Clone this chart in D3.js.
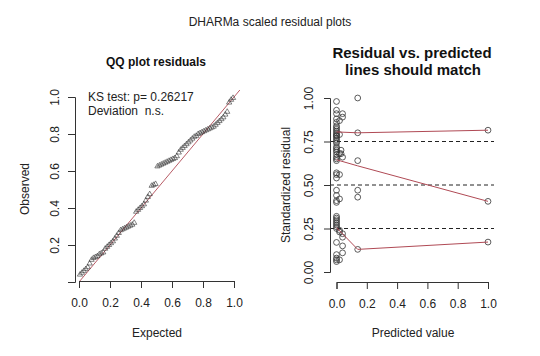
<!DOCTYPE html>
<html><head><meta charset="utf-8">
<script src="https://cdn.jsdelivr.net/npm/d3@7/dist/d3.min.js"></script>
<style>body{margin:0;background:#fff}svg{display:block;font-family:"Liberation Sans",Arial,sans-serif}</style>
</head><body><svg id="c" width="540" height="356"></svg>
<script>
// ---- data ----
const qqObserved = [0.04,0.05,0.06,0.07,0.08,
  0.10,0.12,0.13,0.135,0.14,0.15,0.155,0.16,
  0.18,0.19,0.20,0.21,0.22,0.235,0.25,0.265,
  0.28,0.285,0.29,0.295,0.30,0.305,0.31,0.32,
  0.38,0.39,0.40,0.41,0.42,0.44,0.46,0.475,
  0.52,0.525,0.53,
  0.625,0.63,0.635,0.64,0.645,0.65,0.655,0.66,0.665,0.67,
  0.68,0.70,0.715,0.725,
  0.735,0.745,0.755,0.765,0.775,0.785,0.79,0.80,0.805,0.81,0.815,0.82,
  0.825,0.83,0.835,0.84,0.85,0.86,0.87,0.88,0.89,0.905,0.92,
  0.97,0.985,0.995];
const xTicks = [0,0.2,0.4,0.6,0.8,1.0];
const qqYTicks = [0.2,0.4,0.6,0.8,1.0];
const resYTicks = [0,0.25,0.5,0.75,1.0];
const dashedLevels = [0.25,0.5,0.75];
const predicted = [
  0,0,0,0,0,0,0,0,0,0,0,0,0,0,0,0,0,0,0,0,0,0,0,0,0,0,0,0,0,0,0,0,0,0,0,0,0,0,0,0,0,0,0,0,0,
  0.02,0.02,0.02,0.02,0.02,0.02,0.02,0.02,
  0.04,0.04,0.04,0.04,0.04,0.04,0.04,0.03,0.03,
  0.14,0.14,0.14,0.14,0.14,0.14,
  1.0,1.0,1.0];
const residual = [
  0.98,0.93,0.91,0.88,0.86,0.84,0.83,0.82,0.81,0.80,0.79,0.785,0.78,0.77,0.76,0.75,0.74,0.72,0.71,0.70,0.69,0.675,0.66,0.65,0.64,0.57,0.56,0.54,0.47,0.44,0.41,0.40,0.32,0.31,0.30,0.29,0.28,0.27,0.26,0.25,0.17,0.10,0.08,0.07,0.06,
  0.87,0.79,0.68,0.56,0.42,0.24,0.23,0.07,
  0.91,0.89,0.66,0.22,0.20,0.15,0.11,0.70,0.68,
  1.0,0.80,0.64,0.47,0.43,0.13,
  0.815,0.406,0.172];
const quantPred = [0,0.14,1.0];
const q25 = [0.255,0.13,0.172];
const q50 = [0.645,0.61,0.406];
const q75 = [0.805,0.80,0.815];

// ---- drawing ----
const svg = d3.select("#c");
const axisCol = "#333", redCol = "#b04a55";
const n = qqObserved.length;
const qqExpected = qqObserved.map((d,i)=>(i+0.5)/n);

svg.append("text").attr("x",270).attr("y",26).attr("text-anchor","middle")
  .attr("font-size",12).attr("fill","#222").text("DHARMa scaled residual plots");

// ---- left: QQ plot ----
const xL = d3.scaleLinear([0,1],[79,234]);
const yL = d3.scaleLinear([0,1],[282,97]);
const gL = svg.append("g");
gL.append("defs").append("clipPath").attr("id","clipL").append("rect")
  .attr("x",75).attr("y",90).attr("width",166).attr("height",191);
gL.append("line").attr("clip-path","url(#clipL)")
  .attr("x1",xL(-0.05)).attr("y1",yL(-0.05)).attr("x2",xL(1.1)).attr("y2",yL(1.1))
  .attr("stroke",redCol).attr("stroke-width",0.9);
const tri = d3.symbol().type(d3.symbolTriangle).size(12);
gL.selectAll("path.pt").data(qqObserved).join("path").attr("class","pt")
  .attr("d",tri).attr("transform",(d,i)=>`translate(${xL(qqExpected[i])},${yL(d)})`)
  .attr("fill","none").attr("stroke","#333").attr("stroke-width",0.6);

gL.append("g").attr("transform","translate(0,281)")
  .call(d3.axisBottom(xL).tickValues(xTicks).tickFormat(d3.format(".1f")).tickSizeOuter(0).tickSize(7).tickPadding(10));
const ayL = gL.append("g").attr("transform","translate(75,0)")
  .call(d3.axisLeft(yL).tickValues(qqYTicks).tickFormat(d3.format(".1f")).tickSizeOuter(0).tickSize(7));

gL.append("text").attr("x",156).attr("y",66).attr("text-anchor","middle")
  .attr("font-size",12).attr("font-weight","bold").attr("fill","#111").text("QQ plot residuals");
gL.append("text").attr("x",88).attr("y",101).attr("font-size",12).attr("fill","#222").text("KS test: p= 0.26217");
gL.append("text").attr("x",88).attr("y",115).attr("font-size",12).attr("fill","#222").attr("xml:space","preserve").text("Deviation  n.s.");
gL.append("text").attr("x",157).attr("y",337).attr("text-anchor","middle").attr("font-size",12).attr("fill","#222").text("Expected");
gL.append("text").attr("transform","translate(29,189) rotate(-90)").attr("text-anchor","middle").attr("font-size",12).attr("fill","#222").text("Observed");

// ---- right: residual vs predicted ----
const xR = d3.scaleLinear([0,1],[336.5,488]);
const yR = d3.scaleLinear([0,1],[272,98]);
const gR = svg.append("g");
gR.selectAll("line.dash").data(dashedLevels).join("line").attr("class","dash")
  .attr("x1",330).attr("x2",494).attr("y1",d=>yR(d)).attr("y2",d=>yR(d))
  .attr("stroke","#222").attr("stroke-width",1).attr("stroke-dasharray","4,3");
gR.selectAll("circle").data(residual).join("circle")
  .attr("cx",(d,i)=>xR(predicted[i])).attr("cy",d=>yR(d)).attr("r",2.9)
  .attr("fill","none").attr("stroke","#333").attr("stroke-width",0.8);
const ln = d3.line().x((d,i)=>xR(quantPred[i])).y(d=>yR(d));
[q25,q50,q75].forEach(q=>{
  gR.append("path").attr("d",ln(q)).attr("fill","none").attr("stroke",redCol).attr("stroke-width",1);
});
gR.append("g").attr("transform","translate(0,282)")
  .call(d3.axisBottom(xR).tickValues(xTicks).tickFormat(d3.format(".1f")).tickSizeOuter(0).tickSize(7).tickPadding(10));
const ayR = gR.append("g").attr("transform","translate(330,0)")
  .call(d3.axisLeft(yR).tickValues(resYTicks).tickFormat(d3.format(".2f")).tickSizeOuter(0).tickSize(6));

gR.append("text").attr("x",412).attr("y",58).attr("text-anchor","middle")
  .attr("font-size",15).attr("font-weight","bold").attr("fill","#111").text("Residual vs. predicted");
gR.append("text").attr("x",413).attr("y",75).attr("text-anchor","middle")
  .attr("font-size",15).attr("font-weight","bold").attr("fill","#111").text("lines should match");
gR.append("text").attr("x",413).attr("y",337).attr("text-anchor","middle").attr("font-size",12).attr("fill","#222").text("Predicted value");
gR.append("text").attr("transform","translate(290,185) rotate(-90)").attr("text-anchor","middle").attr("font-size",12).attr("fill","#222").text("Standardized residual");

// style axes like base R
svg.selectAll(".domain").attr("stroke",axisCol);
svg.selectAll(".tick line").attr("stroke",axisCol);
svg.selectAll(".tick text").attr("font-size",12).attr("fill","#222").attr("font-family","Liberation Sans, Arial, sans-serif");
// rotate y tick labels (R style: parallel to axis)
ayL.selectAll(".tick text").attr("transform","rotate(-90)").attr("x",0).attr("y",-16).attr("dy","0").attr("text-anchor","middle");
ayR.selectAll(".tick text").attr("transform","rotate(-90)").attr("x",0).attr("y",-17).attr("dy","0").attr("text-anchor","middle");
</script></body></html>
